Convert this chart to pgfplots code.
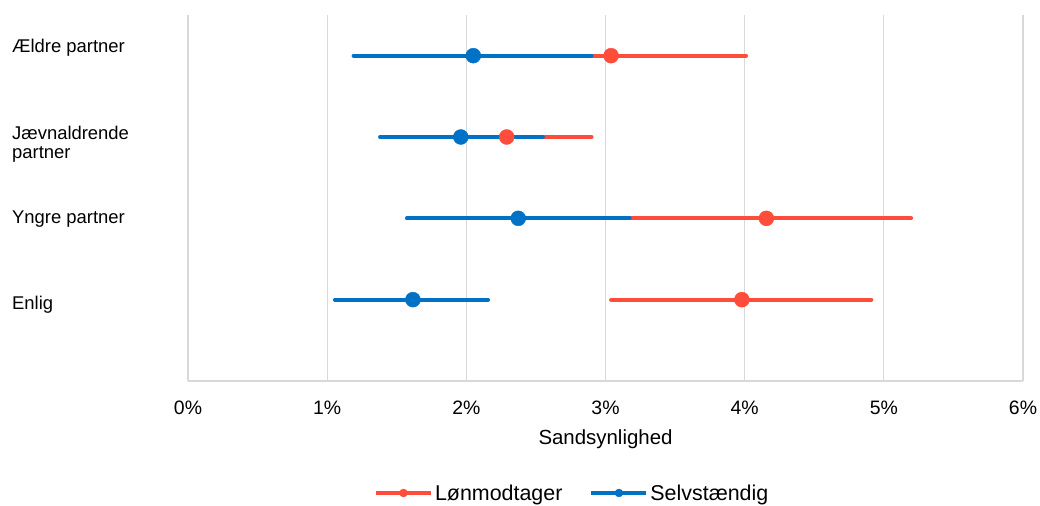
\documentclass[border=0pt]{standalone}
\usepackage{pgfplots}
\pgfplotsset{compat=1.18}
\usepackage{fontspec}
\setmainfont{Liberation Sans}
\definecolor{lred}{HTML}{FF4C3B}
\definecolor{sblue}{HTML}{0072C6}
\definecolor{gridc}{HTML}{D9D9D9}
\begin{document}
\begin{tikzpicture}
\path[use as bounding box] (0,0) rectangle (1040bp,506bp);
\begin{axis}[
  at={(188bp,125bp)}, anchor=south west,
  scale only axis, width=835bp, height=366bp,
  xmin=0, xmax=6, ymin=0, ymax=4.5,
  xtick={0,1,2,3,4,5,6}, ytick={1,2,3,4},
  xticklabel={\pgfmathprintnumber{\tick}\%},
  /pgf/number format/assume math mode=true,
  yticklabels={
    \raisebox{-10.2bp}[0pt][0pt]{Enlig},
    \raisebox{-4.7bp}[0pt][0pt]{Yngre partner},
    {\raisebox{-3bp}[0pt][0pt]{\begin{tabular}[t]{@{}l@{}}Jævnaldrende\\partner\end{tabular}}},
    \raisebox{2.7bp}[0pt][0pt]{Ældre partner}},
  axis x line=bottom, axis y line=left,
  axis line style={-, draw=gridc, line width=1.3bp},
  xmajorgrids, grid style={gridc, line width=1.3bp},
  major tick length=0pt,
  xticklabel style={anchor=center, yshift=-27bp, font=\fontsize{19.5}{23}\selectfont},
  yticklabel style={anchor=west, xshift=-176bp, inner sep=0pt, font=\fontsize{18.5}{18.5}\selectfont},
  xlabel={Sandsynlighed},
  xlabel style={at={(axis description cs:0.5,-0.158)}, anchor=center, font=\fontsize{20.5}{24}\selectfont},
  clip=false,
  legend style={at={(0.219,-0.306)}, anchor=west, draw=none, fill=none,
    font=\fontsize{21.5}{25}\selectfont, legend columns=2,
    /tikz/every odd column/.append style={column sep=0bp},
    /tikz/every even column/.append style={column sep=25bp}},
]
\addlegendimage{lred, legend image code/.code={\draw[lred, line width=4bp] (0bp,0bp) -- (55bp,0bp); \fill[lred] (27.5bp,0bp) circle (4bp);}}
\addlegendentry{Lønmodtager}
\addlegendimage{sblue, legend image code/.code={\draw[sblue, line width=4bp] (0bp,0bp) -- (55bp,0bp); \fill[sblue] (27.5bp,0bp) circle (4bp);}}
\addlegendentry{Selvstændig}

\addplot[forget plot, only marks, mark=*, mark size=7.5bp, color=lred,
  error bars/.cd, x dir=both, x explicit, error mark=none,
  error bar style={line width=4bp, line cap=round, lred}]
coordinates {
  (3.04,4) -= (0.96,0) += (0.97,0)
  (2.29,3) -= (0.60,0) += (0.61,0)
  (4.156,2) -= (0.98,0) += (1.04,0)
  (3.98,1) -= (0.94,0) += (0.93,0)
};
\addplot[forget plot, only marks, mark=*, mark size=7.5bp, color=sblue,
  error bars/.cd, x dir=both, x explicit, error mark=none,
  error bar style={line width=4bp, line cap=round, sblue}]
coordinates {
  (2.05,4) -= (0.86,0) += (0.85,0)
  (1.96,3) -= (0.58,0) += (0.59,0)
  (2.373,2) -= (0.80,0) += (0.80,0)
  (1.616,1) -= (0.56,0) += (0.54,0)
};
\end{axis}
\end{tikzpicture}
\end{document}
